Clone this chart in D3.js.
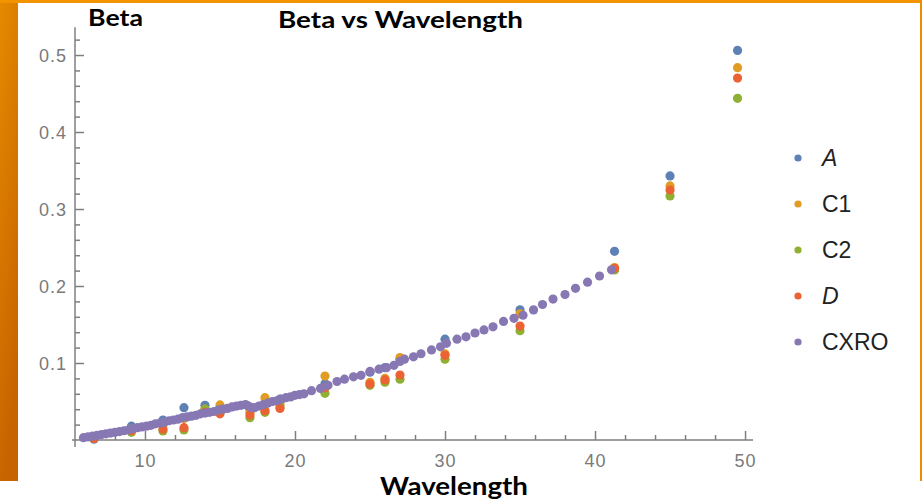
<!DOCTYPE html>
<html>
<head>
<meta charset="utf-8">
<script src="https://cdn.jsdelivr.net/npm/d3@7"></script>
<style>
  body { margin: 0; background: #fff; }
  svg { display: block; }
</style>
</head>
<body>
<div id="chart"></div>
<script>
// measured wavelengths shared by the four fitted series
const wavelengths = [6.6, 9.1, 11.2, 12.6, 14, 15, 17, 18, 19, 22, 25, 26, 27, 30, 35, 41.3, 45, 49.5];
const betaA  = [0.001, 0.018, 0.026, 0.042, 0.045, 0.040, 0.040, 0.047, 0.053, 0.073, 0.088, 0.094, 0.105, 0.131, 0.169, 0.245, 0.343, 0.506];
const betaC1 = [0.003, 0.014, 0.020, 0.028, 0.040, 0.0455, 0.036, 0.055, 0.046, 0.083, 0.075, 0.080, 0.107, 0.112, 0.164, 0.224, 0.330, 0.4835];
const betaC2 = [0.002, 0.010, 0.0117, 0.013, 0.040, 0.036, 0.029, 0.036, 0.043, 0.0606, 0.071, 0.075, 0.079, 0.105, 0.142, 0.2208, 0.317, 0.4437];
const betaD  = [0.002, 0.012, 0.014, 0.016, 0.036, 0.034, 0.0325, 0.038, 0.041, 0.068, 0.0727, 0.078, 0.0844, 0.110, 0.148, 0.223, 0.3247, 0.470];

// CXRO reference curve
const cxroWavelength = [5.9, 6.2, 6.5, 6.8, 7.1, 7.4, 7.7, 8.0, 8.3, 8.6, 8.9, 9.2, 9.5, 9.8, 10.1, 10.4, 10.7, 11.0, 11.3, 11.6,
  11.9, 12.2, 12.5, 12.8, 13.1, 13.4, 13.7, 14.0, 14.3, 14.6, 14.9, 15.2, 15.5, 15.8, 16.1, 16.4, 16.7, 16.9, 17.1, 17.3,
  17.6, 17.9, 18.2, 18.5, 18.8, 19.1, 19.4, 19.7, 20.0, 20.3, 20.6, 21.1, 21.7, 22.2, 22.8, 23.3, 23.9, 24.4, 25.0, 25.6,
  26.1, 26.6, 27.0, 27.3, 27.9, 28.4, 29.1, 29.7, 30.1, 30.8, 31.4, 32.0, 32.6, 33.2, 33.9, 34.6, 35.2, 35.9, 36.5, 37.2,
  38.0, 38.7, 39.5, 40.3, 41.1];
const cxroBeta = [0.003, 0.004, 0.005, 0.006, 0.007, 0.008, 0.009, 0.010, 0.011, 0.012, 0.013, 0.015, 0.016, 0.017, 0.018, 0.019, 0.021, 0.022, 0.023, 0.025,
  0.026, 0.027, 0.029, 0.030, 0.031, 0.032, 0.034, 0.035, 0.036, 0.037, 0.039, 0.040, 0.041, 0.043, 0.044, 0.045, 0.046, 0.044, 0.042, 0.042,
  0.044, 0.046, 0.048, 0.050, 0.051, 0.053, 0.055, 0.056, 0.058, 0.059, 0.060, 0.064, 0.067, 0.071, 0.076, 0.079, 0.082, 0.084, 0.089, 0.092,
  0.094, 0.097, 0.102, 0.105, 0.108, 0.112, 0.117, 0.121, 0.1255, 0.131, 0.134, 0.139, 0.143, 0.147, 0.154, 0.158, 0.162, 0.169, 0.176, 0.183,
  0.189, 0.197, 0.205, 0.213, 0.221];

const seriesNames = ["A", "C1", "C2", "D", "CXRO"];
const seriesColors = ["#5E81B5", "#E19C24", "#8FB032", "#EB6235", "#8778B3"];
const xTickLabels = [10, 20, 30, 40, 50];
const yTickLabels = [0.1, 0.2, 0.3, 0.4, 0.5];

const series = [
  { name: "A", x: wavelengths, y: betaA },
  { name: "C1", x: wavelengths, y: betaC1 },
  { name: "C2", x: wavelengths, y: betaC2 },
  { name: "D", x: wavelengths, y: betaD },
  { name: "CXRO", x: cxroWavelength, y: cxroBeta }
];

const W = 922, H = 500;
const svg = d3.select("#chart").append("svg")
  .attr("width", W)
  .attr("height", H);

// slide background bits (orange frame)
const defs = svg.append("defs");
const grad = defs.append("linearGradient")
  .attr("id", "orangeSide")
  .attr("x1", 0).attr("y1", 0).attr("x2", 0.3).attr("y2", 1);
grad.append("stop").attr("offset", "0%").attr("stop-color", "#E58A00");
grad.append("stop").attr("offset", "100%").attr("stop-color", "#C76300");

svg.append("rect").attr("x", 0).attr("y", 0).attr("width", 18).attr("height", 481).attr("fill", "url(#orangeSide)");
svg.append("rect").attr("x", 0).attr("y", 0).attr("width", W).attr("height", 3).attr("fill", "#F39300");
svg.append("rect").attr("x", 920).attr("y", 0).attr("width", 2).attr("height", 481).attr("fill", "#EE8C00");

// scales
const x = d3.scaleLinear().domain([5.27, 50.53]).range([74, 753]);
const y = d3.scaleLinear().domain([0, 0.536]).range([440, 27.3]);

const axisColor = "#7f7f7f";
const labelColor = "#7a7a7a";

// x axis, ticks pointing up
const xMinor = d3.range(6, 50, 2).filter(v => v % 10 !== 0);
const xAxis = svg.append("g").attr("transform", `translate(0,${y(0)})`);
xAxis.call(d3.axisBottom(x).tickValues(xTickLabels).tickSize(-9).tickFormat(d3.format("d")).tickSizeOuter(0));
xAxis.append("g").call(d3.axisBottom(x).tickValues(xMinor).tickSize(-5).tickFormat("").tickSizeOuter(0))
  .select(".domain").remove();
xAxis.select(".domain").attr("d", `M${x.range()[0] - 2},0H${x.range()[1]}`);

// y axis, ticks pointing right
const yMinor = d3.range(0.02, 0.53, 0.02).filter(v => Math.abs(v * 10 - Math.round(v * 10)) > 1e-6);
const yAxis = svg.append("g").attr("transform", `translate(${x(5.27) + 1},0)`);
yAxis.call(d3.axisLeft(y).tickValues(yTickLabels).tickSize(-9).tickFormat(d3.format(".1f")).tickSizeOuter(0));
yAxis.append("g").call(d3.axisLeft(y).tickValues(yMinor).tickSize(-5).tickFormat("").tickSizeOuter(0))
  .select(".domain").remove();
yAxis.select(".domain").attr("d", `M0,${y(0) + 7}V${y.range()[1]}`);

svg.selectAll(".domain, .tick line")
  .attr("stroke", axisColor)
  .attr("stroke-width", 1.5);

xAxis.selectAll(".tick text")
  .attr("y", 14)
  .attr("dy", "0.71em");
yAxis.selectAll(".tick text")
  .attr("x", -8)
  .attr("dy", "0.36em");

svg.selectAll(".tick text")
  .attr("fill", labelColor)
  .style("font-family", "'Liberation Sans', Arial, sans-serif")
  .style("font-size", "18px")
  .style("letter-spacing", "1px");

// points, one group per series so later series sit on top
series.forEach((s, i) => {
  svg.append("g")
    .selectAll("circle")
    .data(s.x.map((v, k) => [v, s.y[k]]))
    .enter()
    .append("circle")
    .attr("cx", d => x(d[0]))
    .attr("cy", d => y(d[1]))
    .attr("r", 4.6)
    .attr("fill", seriesColors[i]);
});

// titles
const titleFont = "Lato, 'Open Sans', sans-serif";
svg.append("text")
  .attr("x", 88).attr("y", 26)
  .attr("textLength", 55).attr("lengthAdjust", "spacingAndGlyphs")
  .style("font-family", titleFont).style("font-weight", "bold").style("font-size", "23px")
  .text("Beta");

svg.append("text")
  .attr("x", 278).attr("y", 28)
  .attr("textLength", 245).attr("lengthAdjust", "spacingAndGlyphs")
  .style("font-family", titleFont).style("font-weight", "bold").style("font-size", "23px")
  .text("Beta vs Wavelength");

svg.append("text")
  .attr("x", 380).attr("y", 495)
  .attr("textLength", 148).attr("lengthAdjust", "spacingAndGlyphs")
  .style("font-family", titleFont).style("font-weight", "bold").style("font-size", "25px")
  .text("Wavelength");

// legend
const legend = svg.append("g").attr("transform", "translate(798,158)");
const rows = legend.selectAll("g")
  .data(seriesNames)
  .enter()
  .append("g")
  .attr("transform", (d, i) => `translate(0,${i * 46})`);

rows.append("circle")
  .attr("r", 3.6)
  .attr("fill", (d, i) => seriesColors[i]);

rows.append("text")
  .attr("x", 24)
  .attr("dy", "0.36em")
  .attr("fill", "#222")
  .style("font-family", "'Liberation Sans', Arial, sans-serif")
  .style("font-size", "23px")
  .style("font-style", d => (d === "A" || d === "D") ? "italic" : "normal")
  .text(d => d);
</script>
</body>
</html>
